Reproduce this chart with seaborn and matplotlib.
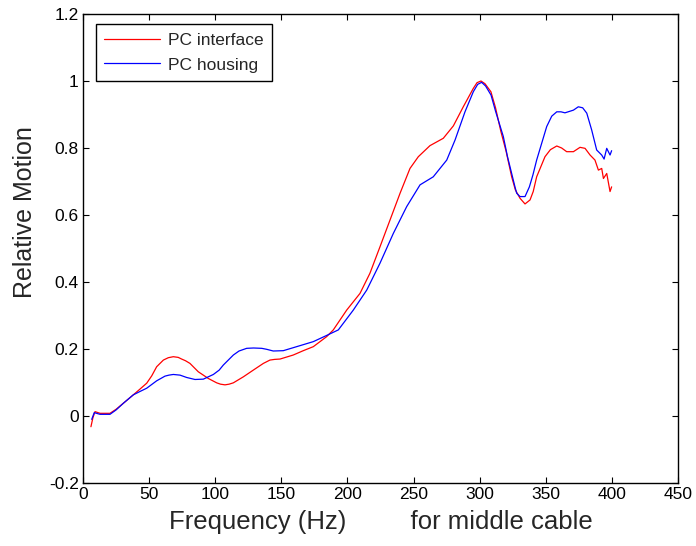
import matplotlib
matplotlib.use("Agg")
import matplotlib.pyplot as plt
import seaborn as sns
import pandas as pd

# ---- data ----
freq_interface = [6.0, 7.5, 9.1, 12.9, 20.4, 25, 30.5, 38, 43, 48.2, 52, 55.7, 60.8, 64.5, 68.3,
                  72, 74.6, 77.5, 80.9, 87.2, 94.8, 101.1, 104, 107.4, 110.5, 113.7, 121.3,
                  128.8, 136.4, 141.4, 145, 149, 159, 166.6, 174.2, 184.3, 189.3, 199.4, 209.5,
                  217, 224.6, 232.2, 239.8, 247.3, 253.6, 262.4, 272.5, 280.1, 287.6, 295.2,
                  298, 301, 304, 308.5, 312, 316, 320, 324.2, 327, 330.5, 334.3, 338.1, 340.5,
                  343.1, 349.4, 353.5, 358.3, 362, 365.8, 370.9, 375.9, 379.7, 383.5, 387.2,
                  389.8, 392.3, 393.6, 396.1, 398.6, 399.8]
interface = [-0.032, -0.005, 0.013, 0.008, 0.008, 0.02, 0.038, 0.063, 0.08, 0.098, 0.12, 0.147,
             0.167, 0.174, 0.177, 0.175, 0.170, 0.165, 0.157, 0.132, 0.112, 0.099, 0.095, 0.093,
             0.095, 0.099, 0.117, 0.137, 0.157, 0.167, 0.169, 0.170, 0.182, 0.195, 0.207, 0.237,
             0.257, 0.316, 0.366, 0.426, 0.505, 0.585, 0.665, 0.739, 0.774, 0.807, 0.829, 0.866,
             0.923, 0.978, 0.995, 1.000, 0.992, 0.968, 0.920, 0.850, 0.790, 0.714, 0.675, 0.650,
             0.633, 0.645, 0.670, 0.714, 0.774, 0.795, 0.806, 0.800, 0.789, 0.789, 0.802, 0.799,
             0.779, 0.764, 0.734, 0.739, 0.709, 0.724, 0.670, 0.684]

freq_housing = [6.6, 8.5, 12.9, 20.4, 25, 30.5, 38, 43, 48.2, 55.7, 62, 65, 68.3, 73.4, 78.4,
                84.7, 91, 98.6, 103, 106.1, 113.7, 118, 123.8, 129, 135.2, 139, 143.9, 151.5,
                161.6, 174.2, 184, 193.1, 204.4, 214.6, 224.6, 234.7, 244.8, 254.9, 264.9,
                275.1, 281.4, 288.9, 295.2, 298.5, 301.5, 304.5, 308.6, 312, 317.9, 321,
                326.7, 328, 330.5, 334.3, 337.6, 340.3, 343.1, 350.7, 354.5, 358.3, 361.5,
                364.5, 370.9, 374.6, 377.9, 381, 384.7, 388.5, 392.3, 394.1, 396.1, 398.6, 399.8]
housing = [-0.010, 0.010, 0.005, 0.005, 0.018, 0.038, 0.063, 0.073, 0.083, 0.105, 0.119, 0.122,
           0.124, 0.122, 0.115, 0.109, 0.110, 0.124, 0.137, 0.152, 0.182, 0.194, 0.202, 0.203,
           0.202, 0.199, 0.194, 0.195, 0.207, 0.222, 0.240, 0.257, 0.316, 0.376, 0.456, 0.545,
           0.625, 0.690, 0.714, 0.764, 0.824, 0.908, 0.968, 0.990, 0.996, 0.985, 0.958, 0.910,
           0.834, 0.775, 0.684, 0.665, 0.655, 0.655, 0.684, 0.720, 0.764, 0.864, 0.895, 0.908,
           0.908, 0.905, 0.913, 0.923, 0.920, 0.904, 0.854, 0.794, 0.779, 0.767, 0.799, 0.779,
           0.792]

series_names = ["PC interface", "PC housing"]
series_colors = ["#ff0000", "#0000ff"]
x_ticks = [0, 50, 100, 150, 200, 250, 300, 350, 400, 450]
y_ticks = [-0.2, 0, 0.2, 0.4, 0.6, 0.8, 1.0, 1.2]
y_tick_labels = ["-0.2", "0", "0.2", "0.4", "0.6", "0.8", "1", "1.2"]

df = pd.concat([
    pd.DataFrame({"Frequency": freq_interface, "Motion": interface, "Series": series_names[0]}),
    pd.DataFrame({"Frequency": freq_housing, "Motion": housing, "Series": series_names[1]}),
], ignore_index=True)

sns.set_style("ticks")
plt.rcParams["font.family"] = ["Liberation Sans", "DejaVu Sans"]

fig = plt.figure(figsize=(6.96, 5.46), dpi=100)
ax = fig.add_axes([83 / 696, 1 - 483 / 546, 595 / 696, 469 / 546])

sns.lineplot(data=df, x="Frequency", y="Motion", hue="Series", hue_order=series_names,
             palette=dict(zip(series_names, series_colors)), estimator=None, sort=False,
             linewidth=0.9, ax=ax)

ax.set_xlim(0, 450)
ax.set_ylim(-0.2, 1.2)
ax.set_xticks(x_ticks)
ax.set_xticklabels([str(t) for t in x_ticks])
ax.set_yticks(y_ticks)
ax.set_yticklabels(y_tick_labels)
ax.tick_params(direction="in", length=4, width=0.8, top=True, right=True,
               labelsize=12.5, colors="black", pad=3)
for s in ax.spines.values():
    s.set_visible(True)
    s.set_color("black")
    s.set_linewidth(1.0)

ax.set_xlabel("Frequency (Hz)         for middle cable", fontsize=18.5, labelpad=6)
ax.set_ylabel("Relative Motion", fontsize=18)
ax.yaxis.set_label_coords(-0.077, 0.577)

leg = ax.legend(loc="upper left", bbox_to_anchor=(0.0213, 0.9787), borderaxespad=0,
                fontsize=12.5, frameon=True, fancybox=False, framealpha=1,
                edgecolor="black", handlelength=3.2, handletextpad=0.45,
                borderpad=0.5, labelspacing=0.55)
leg.get_frame().set_linewidth(1.0)

fig.savefig("out.png", dpi=100)
